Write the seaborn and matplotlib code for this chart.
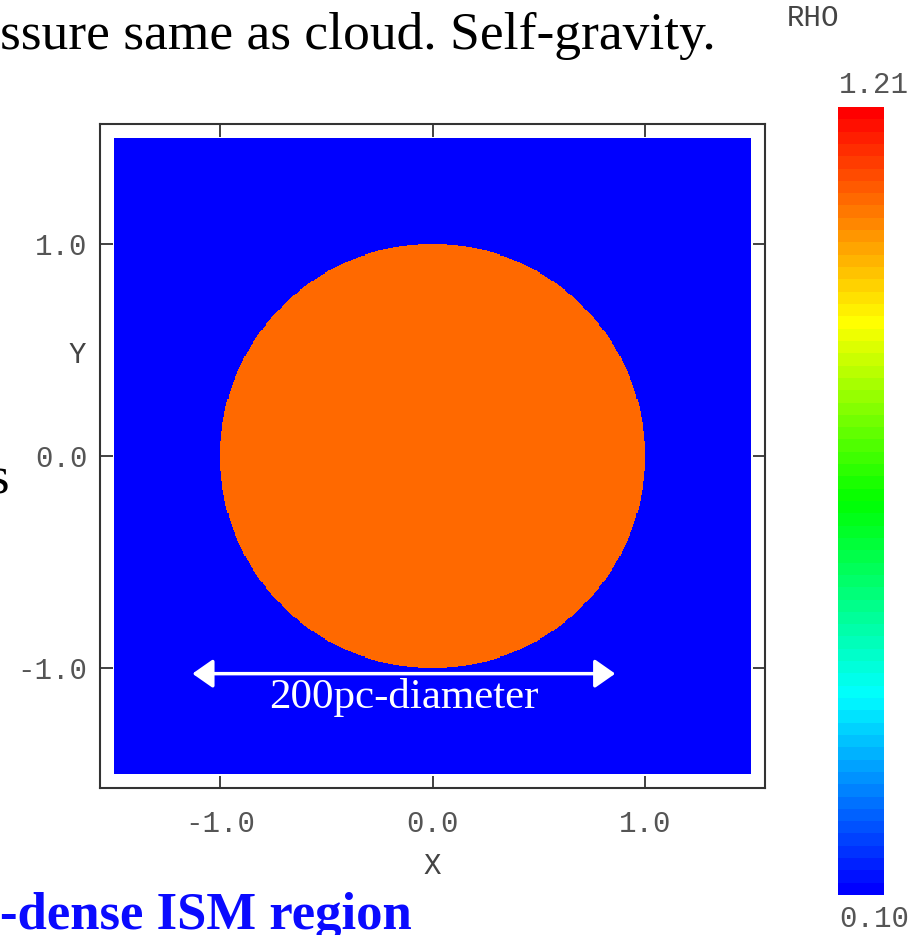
import numpy as np
import pandas as pd
import matplotlib
matplotlib.use("Agg")
import matplotlib.pyplot as plt
from matplotlib.colors import LinearSegmentedColormap
import seaborn as sns

# Initial condition: uniform-density cloud inside a low-density box
rho_min = 0.10
rho_max = 1.21
rho_cloud = 1.08
rho_ambient = 0.10
cloud_radius = 1.0
box_half = 1.5
n_cells = 600

tick_values = [-1.0, 0.0, 1.0]
tick_labels = ["-1.0", "0.0", "1.0"]

# Double-headed marker spanning the cloud diameter
arrow_x = [-1.13, 0.86]
arrow_y = -1.026
arrow_text = "200pc-diameter"

# Density grid (row 0 = top of the box)
centers = -box_half + (np.arange(n_cells) + 0.5) * (2 * box_half / n_cells)
gx, gy = np.meshgrid(centers, centers[::-1])
rho = np.where(gx ** 2 + gy ** 2 <= cloud_radius ** 2, rho_cloud, rho_ambient)
rho_df = pd.DataFrame(rho)


def col(v):
    return (v + box_half) / (2 * box_half) * n_cells


def row(v):
    return (box_half - v) / (2 * box_half) * n_cells


cmap = LinearSegmentedColormap.from_list(
    "rho_rainbow",
    [(0.0, (0, 0, 1)), (0.25, (0, 1, 1)), (0.5, (0, 1, 0)),
     (0.73, (1, 1, 0)), (1.0, (1, 0, 0))],
    N=64,
)

W, H = 915, 935
fig = plt.figure(figsize=(W / 100, H / 100), dpi=100)
fig.patch.set_facecolor("white")

ax = fig.add_axes([100 / W, (H - 788) / H, 665 / W, 664 / H])
cax = fig.add_axes([838 / W, (H - 895) / H, 46 / W, 788 / H])

sns.heatmap(rho_df, ax=ax, cbar_ax=cax, cmap=cmap, vmin=rho_min, vmax=rho_max,
            xticklabels=False, yticklabels=False, rasterized=True)

lim = 1.565
ax.set_xlim(col(-lim), col(lim))
ax.set_ylim(row(-lim), row(lim))
ax.set_facecolor("white")

for s in ax.spines.values():
    s.set_visible(True)
    s.set_color("#333333")
    s.set_linewidth(1.5)

mono = "Liberation Mono"
ax.set_xticks([col(v) for v in tick_values])
ax.set_xticklabels(tick_labels, family=mono, fontsize=21, color="#555555")
ax.set_yticks([row(v) for v in tick_values])
ax.set_yticklabels(tick_labels, family=mono, fontsize=21, color="#555555")
ax.tick_params(axis="both", direction="in", length=9, width=1.3, color="#333333",
               top=True, right=True)
ax.tick_params(axis="x", pad=16)
ax.tick_params(axis="y", pad=9)
for lab in ax.get_yticklabels():
    lab.set_rotation(0)
ax.set_xlabel("")
ax.set_ylabel("")

fig.text(432 / W, 1 - 866 / H, "X", family=mono, fontsize=21, color="#444444",
         ha="center", va="center")
fig.text(77 / W, 1 - 355 / H, "Y", family=mono, fontsize=21, color="#444444",
         ha="center", va="center")

# Arrow and label
ax.annotate("", xy=(col(arrow_x[0]), row(arrow_y)), xytext=(col(arrow_x[1]), row(arrow_y)),
            arrowprops=dict(arrowstyle="<|-|>,head_length=0.5,head_width=0.35",
                            color="white", lw=2.5, mutation_scale=25,
                            shrinkA=0, shrinkB=0))
ax.text(col(-0.135), row(-1.19), arrow_text, family="Liberation Serif", fontsize=31,
        color="white", ha="center", va="baseline")

# Colorbar styling
cbar = ax.collections[0].colorbar
cbar.outline.set_visible(False)
cbar.set_ticks([])
fig.text(874 / W, 1 - 85 / H, f"{rho_max:.2f}", family=mono, fontsize=21,
         color="#555555", ha="center", va="center")
fig.text(874 / W, 1 - 919 / H, f"{rho_min:.2f}", family=mono, fontsize=21,
         color="#555555", ha="center", va="center")
fig.text(813 / W, 1 - 18 / H, "RHO", family=mono, fontsize=21, color="#444444",
         ha="center", va="center")

# Surrounding slide text
fig.text(0.0, 1 - 49 / H, "ssure same as cloud. Self-gravity.", family="Liberation Serif",
         fontsize=38.5, color="black", ha="left", va="baseline")
fig.text(9 / W, 1 - 494 / H, "s", family="Liberation Serif", fontsize=38,
         color="black", ha="right", va="baseline")
fig.text(0.0, 1 - 929 / H, "-dense ISM region", family="Liberation Serif",
         fontsize=38, fontweight="bold", color="#0a0aff", ha="left", va="baseline")

fig.savefig("out.png", dpi=100, facecolor="white")
